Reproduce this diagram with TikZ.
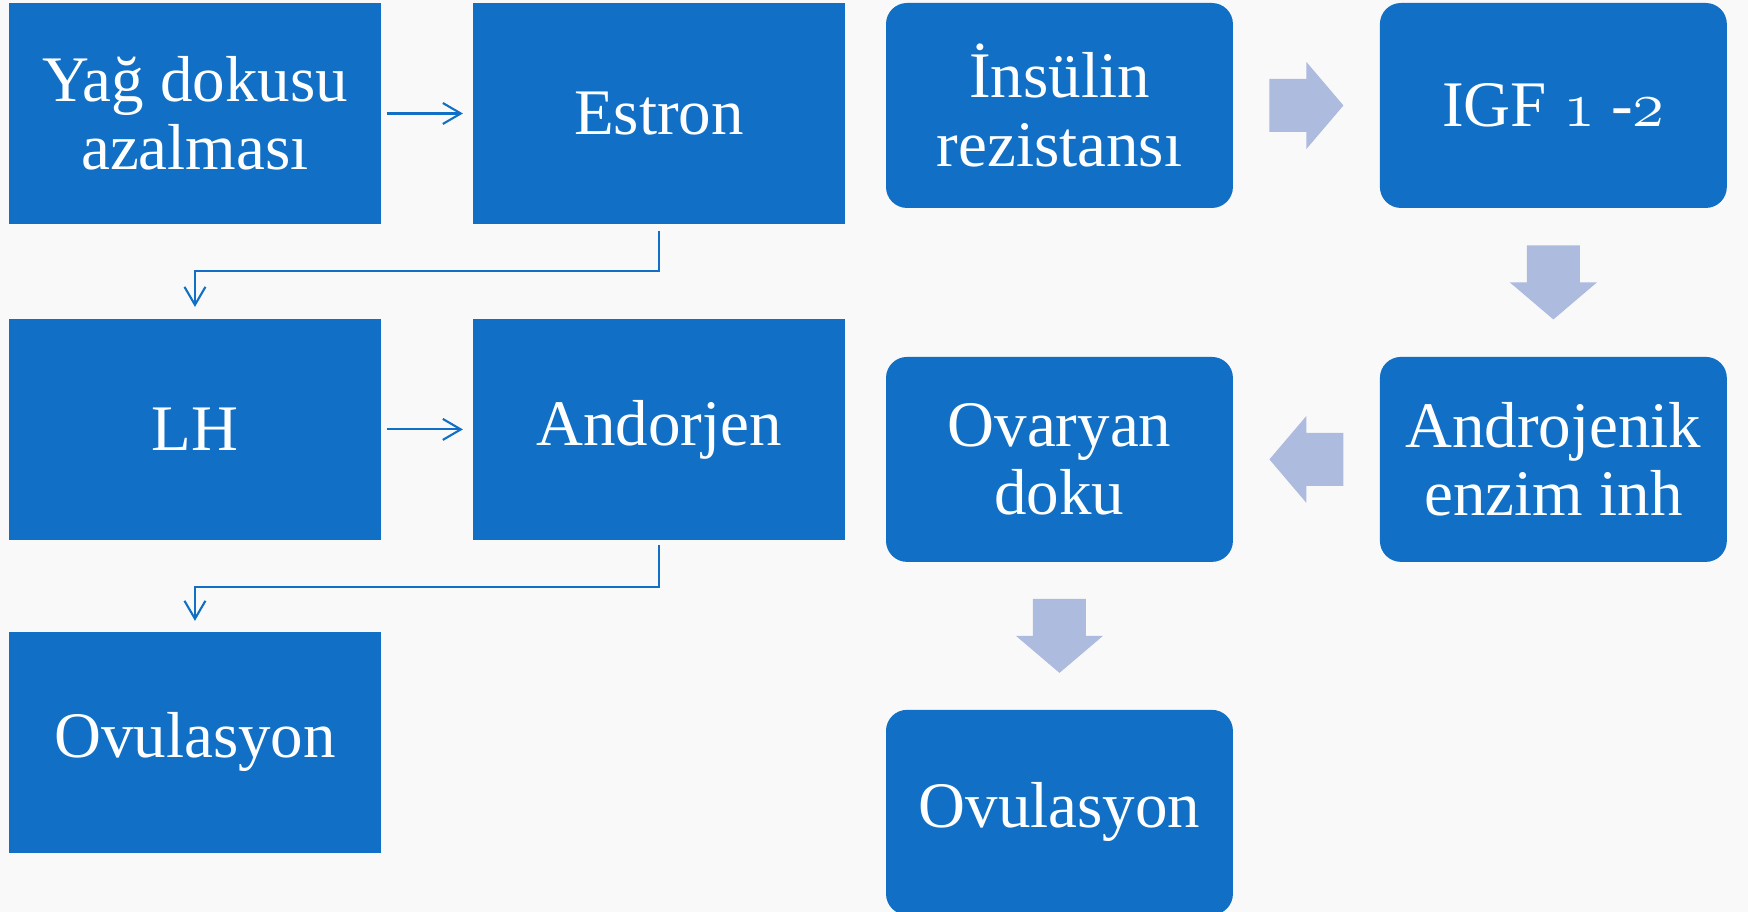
\RequirePackage{fix-cm}
\documentclass[tikz,border=0pt]{standalone}
\usepackage{fontspec}
\setmainfont{Liberation Serif}
\usetikzlibrary{positioning,calc,arrows.meta}

\definecolor{boxblue}{RGB}{17,112,197}
\definecolor{pale}{RGB}{173,187,223}
\definecolor{bg}{RGB}{249,249,249}

\newcommand{\osf}[1]{{\fontencoding{OML}\fontfamily{cmm}\fontseries{m}\fontshape{it}\selectfont #1}}

\tikzset{
    sqbox/.style={fill=boxblue, text=white, minimum width=7.44cm, minimum height=4.42cm,
        inner sep=0pt, outer sep=0pt, align=center, font=\fontsize{37pt}{39pt}\selectfont},
    rbox/.style={sqbox, rounded corners=0.42cm, minimum width=6.94cm, minimum height=4.1cm},
    conn/.style={draw=boxblue, line width=1.2pt, -{Straight Barb[length=0.36cm,width=0.42cm]}},
    barrow/.style={fill=pale}
}

% block arrow: centre, angle
\newcommand{\blockarrow}[2]{%
    \fill[barrow, shift={(#1)}, rotate=#2] (-37,-26.5) -- (0,-26.5) -- (0,-43.5) -- (37,0)
        -- (0,43.5) -- (0,26.5) -- (-37,26.5) -- cycle;}

\begin{document}
\begin{tikzpicture}[x=0.02cm, y=-0.02cm]
    \fill[bg] (0,0) rectangle (1748,912);
    \useasboundingbox (0,0) rectangle (1748,912);

    % left chain
    \node[sqbox, anchor=north west] (yag) at (9,3) {Yağ dokusu\\azalması};
    \node[sqbox, right=1.84cm of yag] (estron) {Estron};
    \node[sqbox, below=1.9cm of yag] (lh) {LH};
    \node[sqbox, right=1.84cm of lh] (andor) {Andorjen};
    \node[sqbox, below=1.84cm of lh] (ovl) {Ovulasyon};

    \draw[conn, shorten <=0.12cm, shorten >=0.2cm] (yag) -- (estron);
    \draw[conn] ([yshift=-0.14cm]estron.south) -- ++(0,40) -| ([yshift=0.24cm]lh.north);
    \draw[conn, shorten <=0.12cm, shorten >=0.2cm] (lh) -- (andor);
    \draw[conn] ([yshift=-0.1cm]andor.south) -- ++(0,42) -| ([yshift=0.22cm]ovl.north);

    % right chain
    \node[rbox, anchor=north west] (ins) at (886,3) {İnsülin\\rezistansı};
    \node[rbox, right=2.94cm of ins] (igf) {IGF \osf{1} -\osf{2}};
    \node[rbox, below=2.98cm of igf] (andro) {Androjenik\\enzim inh};
    \node[rbox, left=2.94cm of andro] (ova) {Ovaryan\\doku};
    \node[rbox, below=2.96cm of ova] (ovr) {Ovulasyon};

    \coordinate (m1) at ($(ins.east)!0.5!(igf.west)$);
    \coordinate (m2) at ($(igf.south)!0.5!(andro.north)$);
    \coordinate (m3) at ($(andro.west)!0.5!(ova.east)$);
    \coordinate (m4) at ($(ova.south)!0.5!(ovr.north)$);
    \blockarrow{m1}{0}
    \blockarrow{m2}{-90}
    \blockarrow{m3}{180}
    \blockarrow{m4}{-90}
\end{tikzpicture}
\end{document}
